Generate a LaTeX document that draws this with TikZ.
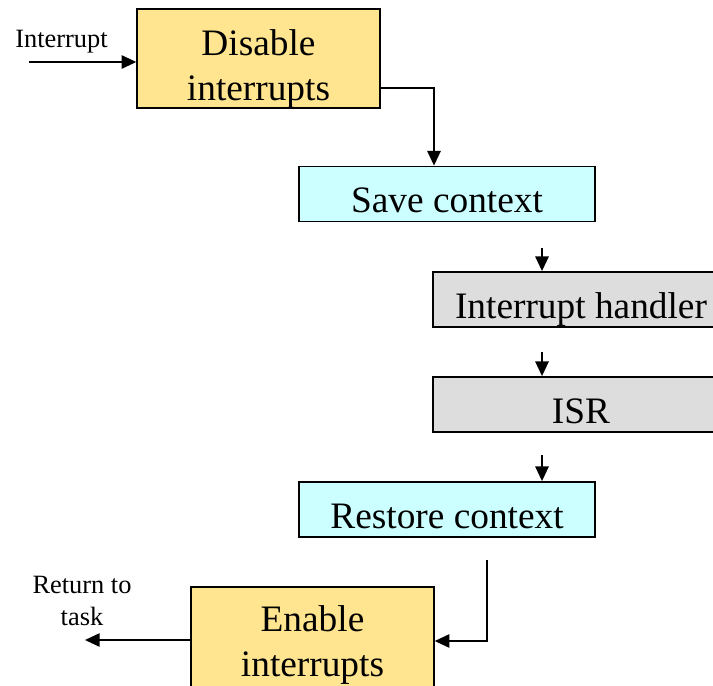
\documentclass[tikz,border=0pt]{standalone}
\usepackage{fontspec}
\setmainfont{Liberation Serif}
\usepackage{xcolor}
\usetikzlibrary{arrows.meta}

\definecolor{boxyellow}{RGB}{255,229,143}
\definecolor{boxcyan}{RGB}{204,255,255}
\definecolor{boxgray}{RGB}{221,221,221}

\begin{document}
\begin{tikzpicture}[x=0.75pt,y=0.75pt,yscale=-1,xscale=1,
  blk/.style={draw=black,line width=1.1pt,inner sep=0pt,align=center,font=\fontsize{28}{33.75}\selectfont,text depth=2.25pt},
  twoline/.style={blk,minimum width=182.25pt,minimum height=74.25pt,text height=64.5pt,fill=boxyellow},
  oneline/.style={blk,minimum width=222pt,minimum height=41.5pt,text height=30pt},
  lbl/.style={inner sep=0pt,anchor=base,align=center,font=\fontsize{19.8}{24}\selectfont},
  arr/.style={line width=1.3pt,-{Triangle[length=11pt,width=10pt]}}]
\useasboundingbox (0,0) rectangle (713,685);

% Boxes
\draw (258.5,58.5) node [twoline] (dis) {Disable\\interrupts};
\draw (447,194) node [oneline,fill=boxcyan] (save) {Save context};
\draw (581,299.5) node [oneline,fill=boxgray] (hand) {Interrupt handler};
\draw (581,404.5) node [oneline,fill=boxgray] (isr) {ISR};
\draw (447,509.5) node [oneline,fill=boxcyan] (rest) {Restore context};
\draw (312.5,638.5) node [twoline,minimum height=77.25pt,text height=58.5pt] (en) {Enable\\interrupts};

% Text Node
\draw (61.5,48) node [lbl] (intlbl) {Interrupt};
% Text Node
\draw (82,625) node [lbl] (retlbl) {Return to\\task};

%Straight Lines
\coordinate (intin) at (29,62);
\draw [arr] (intin) -- (intin -| dis.west);
\coordinate (bend1) at (434,88);
\draw [arr] (bend1 -| dis.east) -- (bend1) -- (bend1 |- save.north);
\coordinate (s1) at (542,248);
\draw [arr] (s1) -- (s1 |- hand.north);
\coordinate (s2) at (542,352);
\draw [arr] (s2) -- (s2 |- isr.north);
\coordinate (s3) at (542,455);
\draw [arr] (s3) -- (s3 |- rest.north);
\coordinate (bend2) at (487,560);
\coordinate (bend2b) at (487,641);
\draw [arr] (bend2) -- (bend2b) -- (bend2b -| en.east);
\coordinate (ret) at (85,640);
\draw [arr] (en.west |- ret) -- (ret);

\end{tikzpicture}
\end{document}
